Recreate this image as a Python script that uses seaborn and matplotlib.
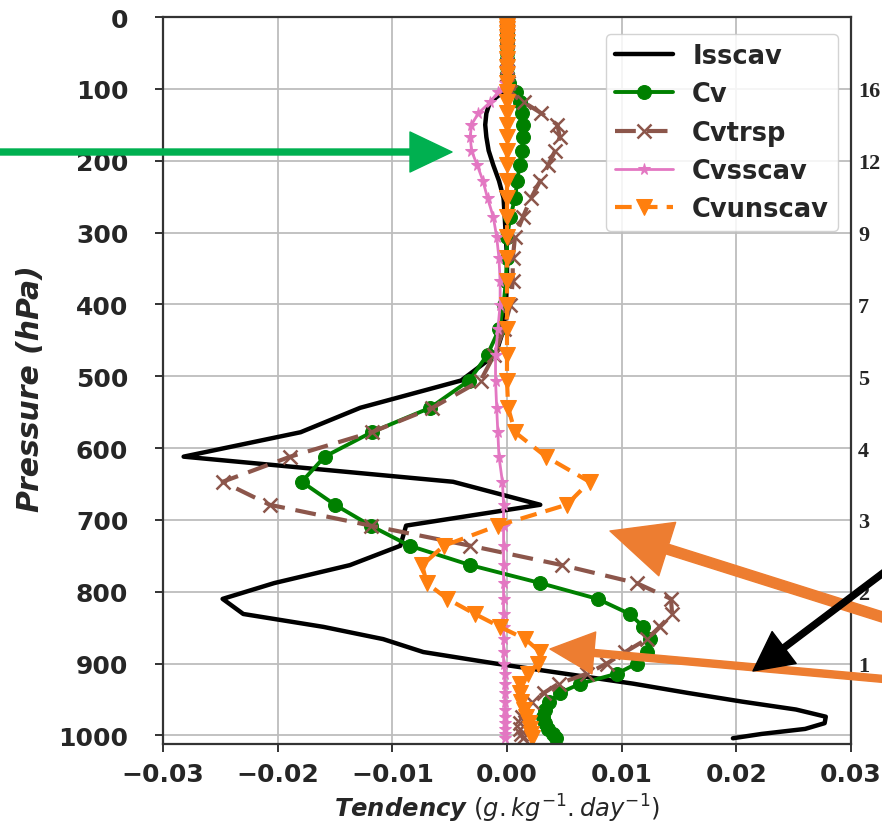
import matplotlib
matplotlib.use('Agg')
import matplotlib.pyplot as plt
from matplotlib.patches import FancyArrowPatch
import seaborn as sns

# pressure levels (hPa), top to bottom
pressure = [2, 5, 8, 12, 17, 22, 28, 35, 42, 50,
            59, 69, 80, 92, 105, 119, 134, 150, 167, 186,
            206, 228, 252, 278, 306, 336, 368, 401, 435, 470,
            506, 544, 578, 612, 647, 679, 708, 736, 763, 788,
            810, 831, 849, 866, 884, 900, 914, 928, 941, 953,
            964, 974, 983, 991, 998, 1004]

isscav = [0, 0, 0, 0, 0, 0, 0, 0, 0, 0,
          0, 0, 0, 0, -0.0004, -0.0015, -0.0018, -0.0019, -0.0018, -0.0016,
          -0.0012, -0.0007, -0.0003, -0.0002, -0.0001, 0.0, 0.0, -0.0001, -0.0003, -0.0010,
          -0.0040, -0.0128, -0.0180, -0.0282, -0.0047, 0.0029, -0.0088, -0.0093, -0.0137, -0.0203,
          -0.0248, -0.0230, -0.0160, -0.0108, -0.0073, -0.0010, 0.0050, 0.0110, 0.0158, 0.0205,
          0.0252, 0.0278, 0.0277, 0.0260, 0.0222, 0.0197]

cv = [0, 0, 0, 0, 0, 0, 0, 0, 0, 0,
      0, 0, 0, 0.0002, 0.0008, 0.0011, 0.0013, 0.0014, 0.0014, 0.0013,
      0.0011, 0.0009, 0.0007, 0.0003, 0.0000, 0.0000, -0.0001, -0.0003, -0.0007, -0.0017,
      -0.0033, -0.0067, -0.0118, -0.0159, -0.0179, -0.0150, -0.0119, -0.0085, -0.0032, 0.0029,
      0.0079, 0.0107, 0.0119, 0.0125, 0.0122, 0.0113, 0.0096, 0.0064, 0.0046, 0.0037,
      0.0033, 0.0031, 0.0033, 0.0036, 0.0040, 0.0043]

cvtrsp = [0, 0, 0, 0, 0, 0, 0, 0, 0, 0,
          0, 0, 0, 0.0001, 0.0003, 0.0015, 0.0030, 0.0044, 0.0046, 0.0042,
          0.0036, 0.0029, 0.0021, 0.0014, 0.0007, 0.0005, 0.0005, 0.0003, -0.0003, -0.0011,
          -0.0023, -0.0065, -0.0118, -0.0189, -0.0248, -0.0207, -0.0119, -0.0032, 0.0048, 0.0113,
          0.0143, 0.0144, 0.0133, 0.0122, 0.0103, 0.0087, 0.0070, 0.0045, 0.0032, 0.0022,
          0.0016, 0.0013, 0.0011, 0.0011, 0.0012, 0.0014]

cvsscav = [0, 0, 0, 0, 0, 0, 0, 0, 0, 0,
           0, 0, 0, -0.0002, -0.0008, -0.0015, -0.0025, -0.0031, -0.0032, -0.0031,
           -0.0026, -0.0021, -0.0017, -0.0012, -0.0009, -0.0007, -0.0006, -0.0006, -0.0008, -0.0010,
           -0.0010, -0.0009, -0.0008, -0.0007, -0.0004, -0.0003, -0.0003, -0.0003, -0.0003, -0.0003,
           -0.0003, -0.0003, -0.0003, -0.0003, -0.0003, -0.0003, -0.0002, -0.0002, -0.0002, -0.0002,
           -0.0002, -0.0002, -0.0002, -0.0002, -0.0002, -0.0002]

cvunscav = [0, 0, 0, 0, 0, 0, 0, 0, 0, 0,
            0, 0, 0, 0, 0, 0, 0, 0, 0, 0,
            0, 0, 0, 0, 0, 0, 0, 0, 0, 0,
            0.0000, 0.0001, 0.0007, 0.0034, 0.0072, 0.0052, -0.0008, -0.0055, -0.0074, -0.0070,
            -0.0052, -0.0028, -0.0006, 0.0016, 0.0029, 0.0027, 0.0018, 0.0011, 0.0011, 0.0012,
            0.0015, 0.0017, 0.0019, 0.0020, 0.0021, 0.0022]

x_ticks = [-0.03, -0.02, -0.01, 0.0, 0.01, 0.02, 0.03]
p_ticks = [0, 100, 200, 300, 400, 500, 600, 700, 800, 900, 1000]
height_ticks = [100, 200, 300, 400, 500, 600, 700, 800, 900]
height_labels = ['16', '12', '9', '7', '5', '4', '3', '2', '1']

sns.set_style('ticks')
plt.rcParams['font.family'] = ['DejaVu Sans']

W, H = 882, 829
fig = plt.figure(figsize=(W / 100, H / 100), dpi=100)
ax = fig.add_axes([163 / W, 1 - 745 / H, (851 - 163) / W, (745 - 18) / H])

styles = [
    ('Isscav', isscav, dict(color='black', linewidth=3.2)),
    ('Cv', cv, dict(color='green', linewidth=2.8, marker='o', markersize=10,
                    markeredgecolor='green')),
    ('Cvtrsp', cvtrsp, dict(color='#8c564b', linewidth=3, linestyle=(0, (5, 2.6)),
                            marker='x', markersize=9.5, markeredgewidth=1.8,
                            markeredgecolor='#8c564b')),
    ('Cvsscav', cvsscav, dict(color='#e377c2', linewidth=2, marker='*', markersize=8.5,
                              markeredgecolor='#e377c2')),
    ('Cvunscav', cvunscav, dict(color='#ff7f0e', linewidth=3, linestyle=(0, (4, 2.2)),
                                marker='v', markersize=11, markeredgecolor='#ff7f0e')),
]
for name, vals, kw in styles:
    sns.lineplot(x=vals, y=pressure, ax=ax, sort=False, estimator=None, label=name, **kw)

ax.set_xlim(-0.03, 0.03)
ax.set_ylim(1012, 0)
ax.set_xticks(x_ticks)
ax.set_yticks(p_ticks)
ax.grid(True, color='#bdbdbd', linewidth=1.3)
for s in ax.spines.values():
    s.set_color('#333333')
    s.set_linewidth(1.6)
ax.tick_params(axis='both', length=6, width=1.4, color='#333333', labelsize=18)
ax.tick_params(axis='y', pad=19)
ax.tick_params(axis='x', pad=7)
for lab in ax.get_xticklabels() + ax.get_yticklabels():
    lab.set_fontweight('bold')

ax.set_ylabel('Pressure (hPa)', fontsize=21.5, fontweight='bold', fontstyle='italic')
ax.yaxis.set_label_coords(-0.172, 0.49)
ax.set_xlabel(r'$\mathbfit{Tendency}$ $(g.kg^{-1}.day^{-1})$', fontsize=17.5)
ax.xaxis.set_label_coords(0.486, -0.066)

leg = ax.legend(loc='upper right', bbox_to_anchor=(1 - 13 / 688, 1 - 17 / 727),
                borderaxespad=0, prop={'size': 18.5, 'weight': 'bold'},
                handlelength=2.25, handletextpad=0.75, labelspacing=0.48,
                borderpad=0.35, framealpha=0.85, edgecolor='#cccccc', fancybox=True)

# altitude labels on the right edge
ax2 = ax.twinx()
ax2.set_ylim(ax.get_ylim())
ax2.set_yticks(height_ticks)
ax2.set_yticklabels(height_labels, fontfamily='Liberation Serif', fontweight='bold', fontsize=16)
ax2.tick_params(axis='y', length=0, pad=5)
ax2.grid(False)
for s in ax2.spines.values():
    s.set_visible(False)


def fpos(x, y):
    return (x / W, 1 - y / H)


def arrow(tail, tip, color, tw, hw, hl):
    k = 0.72  # px -> points at 100 dpi
    style = 'simple,tail_width=%g,head_width=%g,head_length=%g' % (tw * k, hw * k, hl * k)
    fig.add_artist(FancyArrowPatch(fpos(*tail), fpos(*tip), transform=fig.transFigure,
                                   arrowstyle=style, mutation_scale=1, color=color,
                                   shrinkA=0, shrinkB=0))


arrow((-10, 153), (452, 153), '#00b050', 6, 40, 42)
arrow((895, 622), (610, 532), '#ed7d31', 10, 56, 60)
arrow((895, 681), (550, 650), '#ed7d31', 7, 42, 44)
arrow((895, 565), (753, 672), 'black', 6, 40, 39)

fig.savefig('out.png', dpi=100)
